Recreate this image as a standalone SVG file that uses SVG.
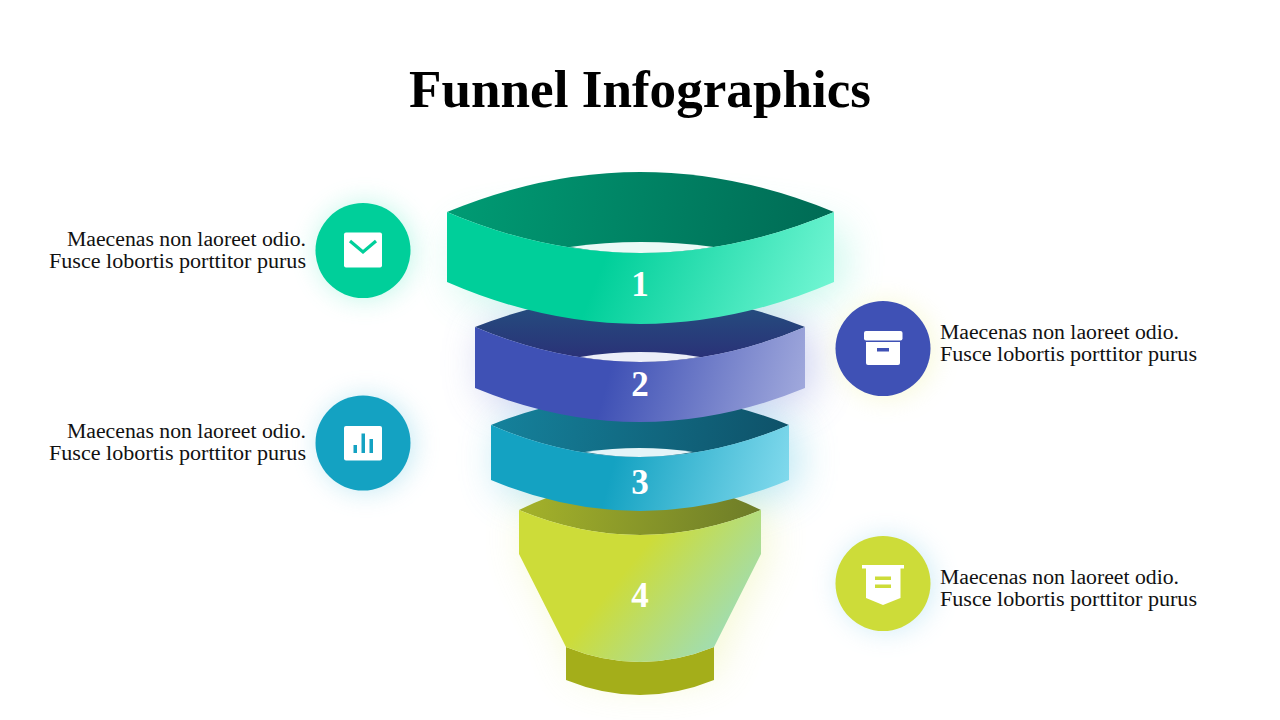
<svg xmlns="http://www.w3.org/2000/svg" width="1280" height="720" viewBox="0 0 1280 720">
<style>
.title{font-family:"Liberation Serif","DejaVu Serif",serif;font-size:53px;font-weight:700;fill:#000;text-anchor:middle}
.body{font-family:"Liberation Serif","DejaVu Serif",serif;font-size:20px;fill:#111}
.end{text-anchor:end}
.num{font-family:"Liberation Serif","DejaVu Serif",serif;font-size:35px;font-weight:700;fill:#fff;text-anchor:middle}
.w{fill:#fff}
</style>
<defs>
<filter id="b" x="-40%" y="-70%" width="180%" height="240%"><feGaussianBlur stdDeviation="20"/></filter>
<filter id="c" x="-70%" y="-70%" width="240%" height="240%"><feGaussianBlur stdDeviation="13"/></filter>
<linearGradient id="f1" gradientUnits="userSpaceOnUse" x1="470" y1="170" x2="820" y2="310"><stop offset=".42" stop-color="#00CF9A"/><stop offset="1" stop-color="#70F5D2"/></linearGradient>
<linearGradient id="t1" gradientUnits="userSpaceOnUse" x1="447" y1="180" x2="834" y2="240"><stop offset="0" stop-color="#009C74"/><stop offset="1" stop-color="#006A54"/></linearGradient>
<linearGradient id="f2" gradientUnits="userSpaceOnUse" x1="475" y1="320" x2="805" y2="410"><stop offset=".42" stop-color="#3F51B5"/><stop offset="1" stop-color="#A3ABDD"/></linearGradient>
<linearGradient id="t2" gradientUnits="userSpaceOnUse" x1="640" y1="300" x2="640" y2="360"><stop offset="0" stop-color="#24507F"/><stop offset="1" stop-color="#2A3077"/></linearGradient>
<linearGradient id="f3" gradientUnits="userSpaceOnUse" x1="491" y1="420" x2="789" y2="500"><stop offset=".42" stop-color="#14A2C2"/><stop offset="1" stop-color="#84DBEE"/></linearGradient>
<linearGradient id="t3" gradientUnits="userSpaceOnUse" x1="491" y1="410" x2="789" y2="450"><stop offset="0" stop-color="#15829C"/><stop offset="1" stop-color="#0E5168"/></linearGradient>
<linearGradient id="f4" gradientUnits="userSpaceOnUse" x1="590" y1="545" x2="725" y2="655"><stop offset=".25" stop-color="#CDDC39"/><stop offset="1" stop-color="#9CDDBD"/></linearGradient>
<linearGradient id="t4" gradientUnits="userSpaceOnUse" x1="530" y1="500" x2="750" y2="530"><stop offset="0" stop-color="#A2B02A"/><stop offset="1" stop-color="#6F7E28"/></linearGradient>
</defs>
<rect width="1280" height="720" fill="#fff"/>
<text class="title" x="640" y="107" textLength="462" lengthAdjust="spacingAndGlyphs">Funnel Infographics</text>
<g id="connectors"/>

<g id="glows">
<path d="M447 222V282Q640 356 834 282V222Q640 182 447 222Z" fill="#4FE8C0" opacity=".3" filter="url(#b)" transform="translate(10 8)"/>
<path d="M475 327V388Q640 456 805 388V327Q640 262 475 327Z" fill="#7F8BD8" opacity=".4" filter="url(#b)" transform="translate(8 6)"/>
<path d="M491 425V480Q640 542 789 480V425Q640 365 491 425Z" fill="#50C0DE" opacity=".4" filter="url(#b)" transform="translate(8 6)"/>
<path d="M519 510V554L566 647V670Q640 695 714 670V647L761 554V510Q640 460 519 510Z" fill="#DDE86A" opacity=".3" filter="url(#b)" transform="translate(6 2)"/>
</g>

<g id="funnel-4">
<path d="M519 510Q640 450 761 510Q640 560 519 510Z" fill="url(#t4)"/>
<path d="M566 647V680Q640 710 714 680V647Q640 677 566 647Z" fill="#A4AE1A"/>
<path d="M519 510Q640 560 761 510V554L714 647Q640 677 566 647L519 554Z" fill="url(#f4)"/>
<text class="num" x="640" y="607">4</text>
</g>
<g id="funnel-3">
<path d="M491 425Q640 365 789 425Q640 489 491 425Z" fill="url(#t3)"/>
<path d="M585 452Q640 444 693 452Q640 462 585 452Z" fill="#E4F4F8"/>
<path d="M491 425Q640 489 789 425V480Q640 542 491 480Z" fill="url(#f3)"/>
<text class="num" x="640" y="494">3</text>
</g>
<g id="funnel-2">
<path d="M475 327Q640 262 805 327Q640 397 475 327Z" fill="url(#t2)"/>
<path d="M580 357Q640 347 700 357Q640 367 580 357Z" fill="#ECEEF8"/>
<path d="M475 327Q640 397 805 327V388Q640 456 475 388Z" fill="url(#f2)"/>
<text class="num" x="640" y="396">2</text>
</g>
<g id="funnel-1">
<path d="M447 212Q640 132 834 212Q640 294 447 212Z" fill="url(#t1)"/>
<path d="M570 247Q640 237 714 247Q640 259 570 247Z" fill="#EAFAF6"/>
<path d="M447 212Q640 294 834 212V282Q640 366 447 282Z" fill="url(#f1)"/>
<text class="num" x="640" y="296">1</text>
</g>

<g id="item-1">
<circle cx="365" cy="251" r="48" fill="#4FE8C0" opacity=".35" filter="url(#c)"/>
<circle cx="363" cy="250.500" r="47.500" fill="#00CF9A"/>
<rect class="w" x="344" y="232.500" width="38" height="35" rx="2"/>
<path d="M350 241L363 252L376 241" fill="none" stroke="#00CF9A" stroke-width="3.200"/>
<text class="body end" x="306" y="245.500" textLength="239" lengthAdjust="spacingAndGlyphs">Maecenas non laoreet odio.</text>
<text class="body end" x="306" y="267.500" textLength="257" lengthAdjust="spacingAndGlyphs">Fusce lobortis porttitor purus</text>
</g>
<g id="item-2">
<circle cx="886" cy="350" r="48" fill="#E8EE90" opacity=".35" filter="url(#c)"/>
<circle cx="883" cy="348.500" r="47.500" fill="#3F51B5"/>
<rect class="w" x="864" y="331" width="38.500" height="9.500" rx="2"/>
<path class="w" d="M866 342H900V363Q900 365 898 365H868Q866 365 866 363Z"/>
<rect x="877" y="348" width="12" height="3.500" fill="#3F51B5"/>
<text class="body" x="940" y="339" textLength="239" lengthAdjust="spacingAndGlyphs">Maecenas non laoreet odio.</text>
<text class="body" x="940" y="361" textLength="257" lengthAdjust="spacingAndGlyphs">Fusce lobortis porttitor purus</text>
</g>
<g id="item-3">
<circle cx="366" cy="444" r="48" fill="#60C4E0" opacity=".35" filter="url(#c)"/>
<circle cx="363" cy="443" r="47.500" fill="#14A2C2"/>
<rect class="w" x="344" y="426" width="38" height="34.500" rx="2"/>
<path d="M353.500 445h3.500v8h-3.500zM361.500 433.500h3.500v19.500h-3.500zM369.500 439h3.500v14h-3.500z" fill="#14A2C2"/>
<text class="body end" x="306" y="438" textLength="239" lengthAdjust="spacingAndGlyphs">Maecenas non laoreet odio.</text>
<text class="body end" x="306" y="460" textLength="257" lengthAdjust="spacingAndGlyphs">Fusce lobortis porttitor purus</text>
</g>
<g id="item-4">
<circle cx="886" cy="584" r="48" fill="#80CCE8" opacity=".35" filter="url(#c)"/>
<circle cx="883" cy="583.500" r="47.500" fill="#CDDC39"/>
<path class="w" d="M862 565H904V568.500H900.500V598L883 605L866 598V568.500H862Z"/>
<path d="M875 576.500h16v3.500h-16zM875 584.500h16v3.500h-16z" fill="#CDDC39"/>
<text class="body" x="940" y="584" textLength="239" lengthAdjust="spacingAndGlyphs">Maecenas non laoreet odio.</text>
<text class="body" x="940" y="606" textLength="257" lengthAdjust="spacingAndGlyphs">Fusce lobortis porttitor purus</text>
</g>
</svg>
